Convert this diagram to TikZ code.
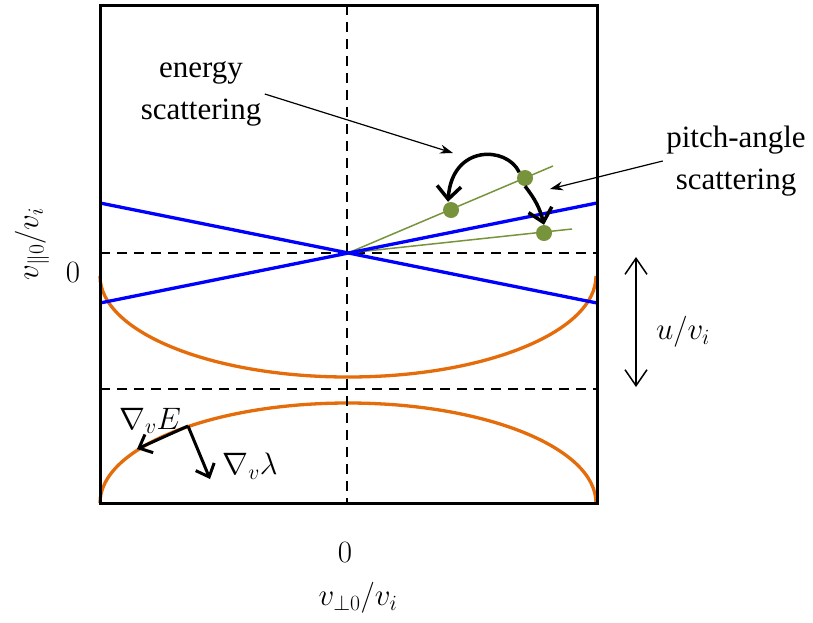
\RequirePackage{fix-cm}
\documentclass[tikz,border=0pt]{standalone}
\usepackage{fontspec}
\setmainfont{Liberation Serif}
\usetikzlibrary{arrows.meta}
\definecolor{lineblue}{RGB}{0,0,255}
\definecolor{curveorange}{RGB}{228,108,10}
\definecolor{dotgreen}{RGB}{119,147,60}
\tikzset{
  guide/.style={line width=2pt, dash pattern=on 10pt off 7pt},
  note/.style={line width=1.2pt, -{Stealth[length=13pt,width=9pt]}},
  kick/.style={line width=3.5pt, -{Straight Barb[length=13pt,width=24pt]}},
  grad/.style={line width=3pt, -{Straight Barb[length=11pt,width=20pt]}},
  dot/.style={circle, fill=dotgreen, inner sep=0pt, minimum size=16pt},
}
\begin{document}
\begin{tikzpicture}[x=1pt,y=-1pt,font=\fontsize{31}{42}\selectfont]
  \useasboundingbox (0,0) rectangle (813,622);
  % orange curves
  \draw[curveorange, line width=3.3pt] (100,276) arc[start angle=180, end angle=360, x radius=248pt, y radius=101pt];
  \draw[curveorange, line width=3.3pt] (100,503) arc[start angle=180, end angle=0, x radius=248pt, y radius=100pt];
  % dashed guides
  \draw[guide] (347,5) -- (347,503);
  \draw[guide] (100,253) -- (597,253);
  \draw[guide] (100,389) -- (597,389);
  % green rays
  \coordinate (o) at (348,253);
  \draw[dotgreen, line width=1.5pt] (o) -- (553,166);
  \draw[dotgreen, line width=1.5pt] (o) -- (572,229);
  % blue lines
  \draw[lineblue, line width=3.3pt] (100,203) -- (597,303);
  \draw[lineblue, line width=3.3pt] (100,303) -- (597,203);
  % frame
  \draw[line width=3pt] (100,5) rectangle (597,503);
  % scattered particles
  \node[dot] (d1) at (451,210) {};
  \node[dot] (d2) at (525,178) {};
  \node[dot] (d3) at (544,233) {};
  \draw[kick] (d2.north west) .. controls (507,146) and (452,144) .. ([xshift=-3pt]d1.north);
  \draw[kick] (d2.south) to[bend left=12] (d3.north);
  % labels
  \node[align=center] (energy) at (201,94) {energy\\scattering};
  \node[align=center] (pitch) at (736,161) {pitch-angle\\scattering};
  \draw[note] (energy.east) -- (453,153);
  \draw[note] (pitch.west) -- (550,189);
  % drift gap
  \coordinate (gtop) at (636,257);
  \coordinate (gbot) at (636,387);
  \draw[line width=1.5pt, {Straight Barb[length=16pt,width=22pt]}-{Straight Barb[length=16pt,width=22pt]}] (gtop) -- (gbot);
  \node (gap) at (683,332) {$u/v_i$};
  % gradients
  \coordinate (p) at (188,426);
  \draw[grad] (p) -- (137,449);
  \draw[grad] (p) -- (210,479);
  \node (gE) at (150,421) {$\nabla_v E$};
  \node (gL) at (250,466) {$\nabla_v \lambda$};
  % axes
  \node (y0) at (73,272) {$0$};
  \node (x0) at (345,552) {$0$};
  \node[rotate=90] (ylab) at (32,244) {$v_{\|0}/v_i$};
  \node (xlab) at (358,598) {$v_{\perp0}/v_i$};
\end{tikzpicture}
\end{document}
